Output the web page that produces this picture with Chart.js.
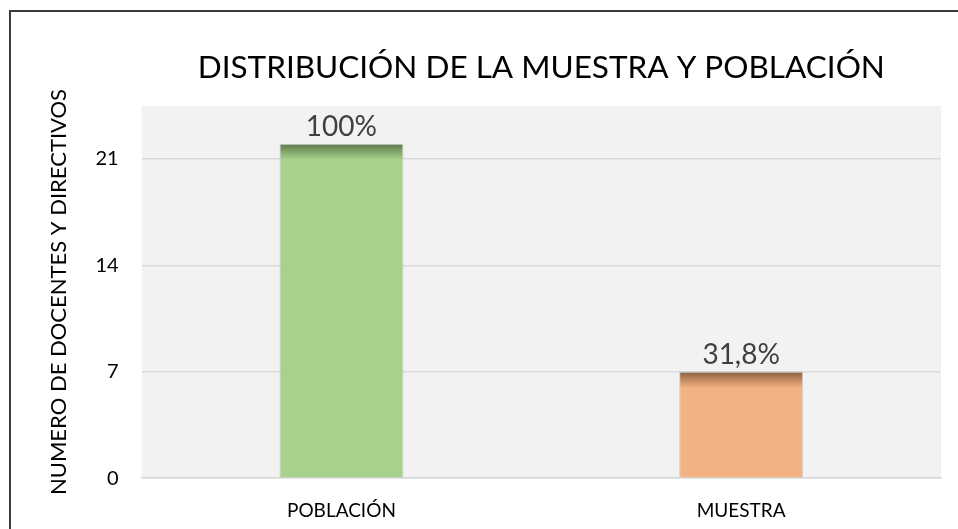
<!DOCTYPE html>
<html>
<head>
<meta charset="utf-8">
<script src="https://cdn.jsdelivr.net/npm/chart.js@4"></script>
<style>
  html, body { margin: 0; padding: 0; background: #fff; }
  .wrap { position: relative; width: 958px; height: 529px; }
  .frame { position: absolute; left: 9px; top: 10px; right: 0; bottom: 0;
           border-top: 2px solid #3a3a3a; border-left: 2px solid #3a3a3a; pointer-events: none; }
  canvas { position: absolute; left: 0; top: 0; }
</style>
</head>
<body>
<div class="wrap">
  <canvas id="myChart" width="958" height="529"></canvas>
  <div class="frame"></div>
</div>
<script>
const categories = ['POBLACIÓN', 'MUESTRA']
const docentes = [22, 7]
const pctLabels = ['100%', '31,8%']
const yTicks = [0, 7, 14, 21]

const baseColors = ['#a9d18e', '#f4b183']
const topColors = ['#5c7a4c', '#8c5f3f']
const FONT = 'Lato, "Open Sans", sans-serif'

// bar fill with the dark top edge like the office shadow
function barFill(ctx) {
    const chart = ctx.chart
    const i = ctx.dataIndex
    if (!chart.chartArea || ctx.raw === undefined) return baseColors[i]
    const y = chart.scales.y.getPixelForValue(ctx.raw)
    const g = chart.ctx.createLinearGradient(0, y, 0, y + 16)
    g.addColorStop(0, topColors[i])
    g.addColorStop(1, baseColors[i])
    return g
}

const plotBg = {
    id: 'plotBg',
    beforeDraw(chart) {
        const { ctx, chartArea } = chart
        ctx.save()
        ctx.fillStyle = '#f2f2f2'
        ctx.fillRect(chartArea.left, chartArea.top, chartArea.right - chartArea.left, chartArea.bottom - chartArea.top)
        ctx.restore()
    }
}

const barLabels = {
    id: 'barLabels',
    afterDatasetsDraw(chart) {
        const ctx = chart.ctx
        const meta = chart.getDatasetMeta(0)
        ctx.save()
        ctx.font = '28px ' + FONT
        ctx.fillStyle = '#404040'
        ctx.textAlign = 'center'
        ctx.textBaseline = 'bottom'
        meta.data.forEach((bar, i) => {
            ctx.fillText(pctLabels[i], bar.x, bar.y - 3)
        })
        ctx.restore()
    }
}

const ctx = document.getElementById('myChart').getContext('2d')
const myChart = new Chart(ctx, {
    type: 'bar',
    data: {
        labels: categories,
        datasets: [{
            data: docentes,
            backgroundColor: barFill,
            borderColor: 'rgba(90,90,90,0.25)',
            borderWidth: 1,
            barPercentage: 0.31,
            categoryPercentage: 1
        }]
    },
    options: {
        responsive: false,
        animation: false,
        layout: { padding: { left: 46, top: 49, right: 17, bottom: -14 } },
        plugins: {
            legend: { display: false },
            tooltip: { enabled: false },
            title: {
                display: true,
                fullSize: false,
                text: 'DISTRIBUCIÓN DE LA MUESTRA Y POBLACIÓN',
                color: '#000',
                font: { family: FONT, size: 31.5, weight: 'normal', lineHeight: 1.2 },
                padding: { top: 0, bottom: 19 }
            }
        },
        scales: {
            x: {
                grid: { display: false, drawTicks: false },
                border: { display: true, color: '#d9d9d9', width: 1.5 },
                ticks: {
                    color: '#000',
                    padding: 21,
                    font: { family: FONT, size: 19 }
                }
            },
            y: {
                min: 0,
                max: 24.5,
                afterBuildTicks: axis => { axis.ticks = yTicks.map(v => ({ value: v })) },
                grid: { color: '#d9d9d9', lineWidth: 1.5, drawTicks: false },
                border: { display: false },
                ticks: {
                    color: '#000',
                    padding: 23,
                    font: { family: FONT, size: 20 }
                },
                title: {
                    display: true,
                    text: 'NUMERO DE DOCENTES Y DIRECTIVOS',
                    color: '#000',
                    font: { family: FONT, size: 22, lineHeight: 1.2 },
                    padding: { top: 0, bottom: 0 }
                }
            }
        }
    },
    plugins: [plotBg, barLabels]
})
</script>
</body>
</html>
